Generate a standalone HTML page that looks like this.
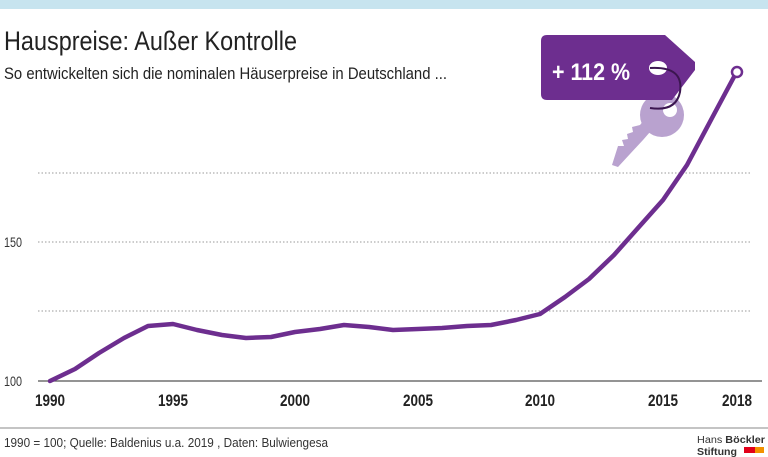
<!DOCTYPE html>
<html><head><meta charset="utf-8"><style>
body{margin:0;width:768px;height:457px;background:#fff;overflow:hidden;font-family:"Liberation Sans",sans-serif;}
</style></head><body>
<svg width="768" height="457" viewBox="0 0 768 457" xmlns="http://www.w3.org/2000/svg" style="display:block;font-family:'Liberation Sans',sans-serif">
<rect x="0" y="0" width="768" height="9" fill="#c7e4ef"/>
<text x="4" y="50" font-size="27" fill="#222" textLength="293" lengthAdjust="spacingAndGlyphs">Hauspreise: Außer Kontrolle</text>
<text x="4" y="79" font-size="17" fill="#222" textLength="443" lengthAdjust="spacingAndGlyphs">So entwickelten sich die nominalen Häuserpreise in Deutschland ...</text>
<g stroke="#999" stroke-width="1" stroke-dasharray="1.5,2">
<line x1="38" y1="173" x2="750" y2="173"/>
<line x1="38" y1="242" x2="750" y2="242"/>
<line x1="38" y1="311" x2="750" y2="311"/>
</g>
<line x1="38" y1="381" x2="762" y2="381" stroke="#555" stroke-width="1.2"/>
<text x="4" y="247" font-size="14" fill="#333" textLength="18" lengthAdjust="spacingAndGlyphs">150</text>
<text x="4" y="386" font-size="14" fill="#333" textLength="18" lengthAdjust="spacingAndGlyphs">100</text>
<g font-size="17" font-weight="bold" fill="#222">
<text x="35" y="406" textLength="30" lengthAdjust="spacingAndGlyphs">1990</text>
<text x="158" y="406" textLength="30" lengthAdjust="spacingAndGlyphs">1995</text>
<text x="280" y="406" textLength="30" lengthAdjust="spacingAndGlyphs">2000</text>
<text x="403" y="406" textLength="30" lengthAdjust="spacingAndGlyphs">2005</text>
<text x="525" y="406" textLength="30" lengthAdjust="spacingAndGlyphs">2010</text>
<text x="648" y="406" textLength="30" lengthAdjust="spacingAndGlyphs">2015</text>
<text x="722" y="406" textLength="30" lengthAdjust="spacingAndGlyphs">2018</text>
</g>
<polyline fill="none" stroke="#6d2e8f" stroke-width="4.5" stroke-linejoin="round" stroke-linecap="round" points="50,381 75,369 99,353 124,338 148,326 173,324 197,330 222,335 246,338 271,337 295,332 320,329 344,325 369,327 393,330 418,329 442,328 467,326 491,325 516,320 540,314 565,297 589,279 614,255 638,228 663,200 687,165 712,118 735,75"/>
<circle cx="737" cy="72" r="5" fill="#fff" stroke="#6d2e8f" stroke-width="2.5"/>
<path d="M612,165 L618,146 L624,146 L622,140 L628,139 L627,134 L633,132 L632,127 L640,125 L648,115 L660,126 L650,132 L643,140 L618,167 Z" fill="#b9a2cf"/>
<circle cx="662" cy="115" r="22" fill="#b9a2cf"/>
<circle cx="670" cy="110" r="7" fill="#fff"/>
<path d="M547,35 L665,35 L695,62 L695,70 L672,100 L547,100 Q541,100 541,94 L541,41 Q541,35 547,35 Z" fill="#6d2e8f"/>
<ellipse cx="658" cy="68" rx="9" ry="7" fill="#fff"/>
<path d="M650,68 Q684,66 680,92 Q676,112 650,108" fill="none" stroke="#3b1650" stroke-width="2"/>
<text x="552" y="80" font-size="24" font-weight="bold" fill="#fff" textLength="78" lengthAdjust="spacingAndGlyphs">+ 112 %</text>
<line x1="0" y1="428" x2="768" y2="428" stroke="#888" stroke-width="1"/>
<text x="4" y="447" font-size="13" fill="#333" textLength="324" lengthAdjust="spacingAndGlyphs">1990 = 100; Quelle: Baldenius u.a. 2019 , Daten: Bulwiengesa</text>
<text x="697" y="443" font-size="10" fill="#333" textLength="68" lengthAdjust="spacingAndGlyphs">Hans <tspan font-weight="bold">Böckler</tspan></text>
<text x="697" y="455" font-size="10" font-weight="bold" fill="#333" textLength="40" lengthAdjust="spacingAndGlyphs">Stiftung</text>
<rect x="744" y="447" width="11" height="6" fill="#e2001a"/>
<rect x="755" y="447" width="9" height="6" fill="#f39200"/>
</svg>
</body></html>
